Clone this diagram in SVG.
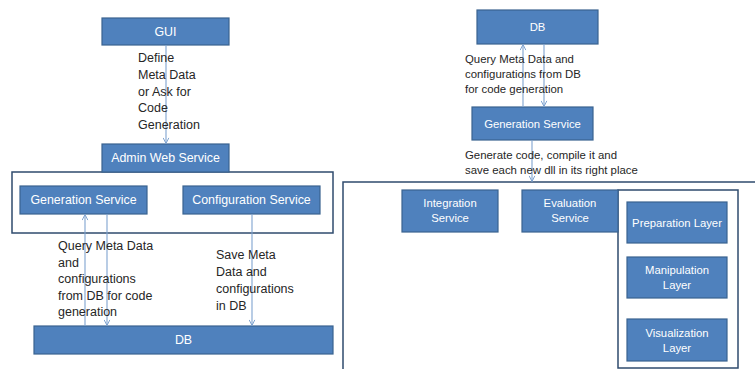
<svg xmlns="http://www.w3.org/2000/svg" width="755" height="369" viewBox="0 0 755 369">
<defs>
<style>
.box{fill:#4F81BD;stroke:#3A638F;stroke-width:1.2}
.bt{fill:#fff;font-family:"Liberation Sans",Arial,sans-serif;font-size:12.4px;text-anchor:middle;dominant-baseline:central}
.bts{fill:#fff;font-family:"Liberation Sans",Arial,sans-serif;font-size:11.3px;text-anchor:middle;dominant-baseline:central}
.lbl{fill:#262626;font-family:"Liberation Sans",Arial,sans-serif;font-size:12.5px}
.lbls{fill:#262626;font-family:"Liberation Sans",Arial,sans-serif;font-size:11.4px}
.cont{fill:#fff;stroke:#2F4B6E;stroke-width:1.5}
.ar{stroke:#7FA3CF;stroke-width:1.1;fill:none}
</style>
<marker id="ah" viewBox="0 0 10 10" refX="9" refY="5" markerWidth="7" markerHeight="7" orient="auto-start-reverse" markerUnits="userSpaceOnUse">
<polyline points="1,1 9,5 1,9" fill="none" stroke="#7FA3CF" stroke-width="1.4"/>
</marker>
</defs>
<rect width="755" height="369" fill="#fff"/>

<!-- containers -->
<g id="left-container"><rect class="cont" x="12" y="172" width="321" height="61"/></g>
<g id="right-container"><rect class="cont" x="343" y="182" width="430" height="200"/></g>
<g id="eval-panel"><rect class="cont" x="618" y="190" width="120" height="178"/></g>

<!-- left nodes -->
<g id="gui"><rect class="box" x="102" y="18" width="127" height="27"/><text class="bt" x="165.5" y="31.5">GUI</text></g>
<g id="admin"><rect class="box" x="102" y="144" width="127" height="28"/><text class="bt" x="165.5" y="158">Admin Web Service</text></g>
<g id="gen-left"><rect class="box" x="20" y="186" width="127" height="28"/><text class="bt" x="83.5" y="200">Generation Service</text></g>
<g id="config"><rect class="box" x="183" y="186" width="137" height="28"/><text class="bt" x="251.5" y="200">Configuration Service</text></g>
<g id="db-left"><rect class="box" x="34" y="326" width="299" height="28"/><text class="bt" x="183.5" y="340">DB</text></g>

<!-- right nodes -->
<g id="db-right"><rect class="box" x="477" y="10" width="121" height="34"/><text class="bts" x="537.5" y="27">DB</text></g>
<g id="gen-right"><rect class="box" x="472" y="107" width="121" height="33"/><text class="bts" x="532.5" y="123.5">Generation Service</text></g>
<g id="integration"><rect class="box" x="402" y="190" width="96" height="42"/><text class="bts" x="450" y="203">Integration</text><text class="bts" x="450" y="218">Service</text></g>
<g id="evaluation"><rect class="box" x="522" y="190" width="96" height="42"/><text class="bts" x="570" y="203">Evaluation</text><text class="bts" x="570" y="218">Service</text></g>
<g id="preparation"><rect class="box" x="627" y="202" width="100" height="41"/><text class="bts" x="677" y="222.5">Preparation Layer</text></g>
<g id="manipulation"><rect class="box" x="627" y="257" width="100" height="41"/><text class="bts" x="677" y="270">Manipulation</text><text class="bts" x="677" y="285">Layer</text></g>
<g id="visualization"><rect class="box" x="627" y="319" width="100" height="42"/><text class="bts" x="677" y="333">Visualization</text><text class="bts" x="677" y="348">Layer</text></g>

<!-- connectors -->
<g id="connectors">
<line class="ar" x1="166" y1="45" x2="166" y2="143.5" marker-end="url(#ah)"/>
<line class="ar" x1="85" y1="326" x2="85" y2="214.5" marker-end="url(#ah)"/>
<line class="ar" x1="107" y1="214" x2="107" y2="325.5" marker-end="url(#ah)"/>
<line class="ar" x1="252" y1="214" x2="252" y2="325.5" marker-end="url(#ah)"/>
<line class="ar" x1="523" y1="107" x2="523" y2="44.5" marker-end="url(#ah)"/>
<line class="ar" x1="544" y1="44" x2="544" y2="106.5" marker-end="url(#ah)"/>
<line class="ar" x1="532" y1="140" x2="532" y2="181.5" marker-end="url(#ah)"/>
</g>

<!-- labels -->
<g id="labels">
<text class="lbl" x="138" y="62">Define</text>
<text class="lbl" x="138" y="79">Meta Data</text>
<text class="lbl" x="138" y="96">or Ask for</text>
<text class="lbl" x="138" y="112">Code</text>
<text class="lbl" x="138" y="129">Generation</text>

<text class="lbl" x="58" y="250">Query Meta Data</text>
<text class="lbl" x="58" y="267">and</text>
<text class="lbl" x="58" y="283">configurations</text>
<text class="lbl" x="58" y="300">from DB for code</text>
<text class="lbl" x="58" y="316">generation</text>

<text class="lbl" x="216" y="259">Save Meta</text>
<text class="lbl" x="216" y="276">Data and</text>
<text class="lbl" x="216" y="293">configurations</text>
<text class="lbl" x="216" y="310">in DB</text>

<text class="lbls" x="465" y="63">Query Meta Data and</text>
<text class="lbls" x="465" y="78">configurations from DB</text>
<text class="lbls" x="465" y="93">for code generation</text>

<text class="lbls" x="465" y="159">Generate code, compile it and</text>
<text class="lbls" x="465" y="174">save each new dll in its right place</text>
</g>
</svg>
